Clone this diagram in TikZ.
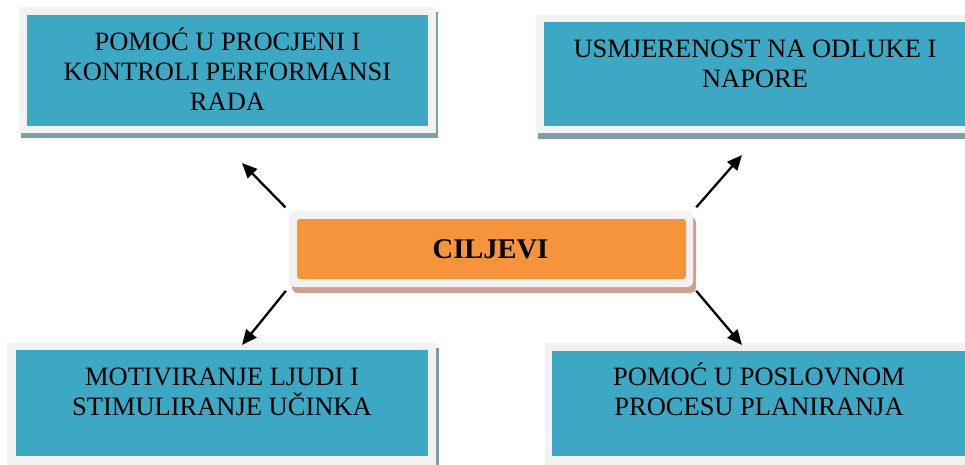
\documentclass[tikz,border=0pt]{standalone}
\usepackage{fontspec}
\setmainfont{Liberation Serif}
\usetikzlibrary{arrows.meta}
\definecolor{tealbox}{HTML}{3DA8C4}
\definecolor{framegray}{HTML}{F2F2F2}
\definecolor{shadowblue}{HTML}{7D9FA9}
\definecolor{orangebox}{HTML}{F5943A}
\definecolor{shadowbrown}{HTML}{CDA08F}
\begin{document}
\begin{tikzpicture}[x=1pt,y=-1pt,
  frame/.style={fill=framegray,inner sep=0pt,outer sep=0pt,draw=none},
  inner/.style={fill=tealbox,inner sep=0pt,outer sep=0pt,draw=none},
  label/.style={anchor=base,align=center,inner sep=0pt,font=\fontsize{26.5}{30}\selectfont},
  conn/.style={line width=2.3pt,-{Triangle[length=15pt,width=13pt]},shorten <=5pt}]
\useasboundingbox (0,0) rectangle (965,464);
\fill[white] (0,0) rectangle (965,464);
% top-left
\fill[shadowblue] (21,12) rectangle (438,138);
\node[frame,minimum width=417pt,minimum height=126pt] (tlf) at (227.5,70) {};
\node[inner,minimum width=401pt,minimum height=111pt] (tli) at (227.5,70.5) {};
\node[label] (tlt) at (227.5,110) {POMOĆ U PROCJENI I\\KONTROLI PERFORMANSI\\RADA};
% top-right
\fill[shadowblue] (538,20) rectangle (977,139);
\node[frame,minimum width=439pt,minimum height=118pt] (trf) at (755.5,74) {};
\node[inner,minimum width=423pt,minimum height=104pt] (tri) at (755.5,74) {};
\node[label] (trt) at (755,87) {USMJERENOST NA ODLUKE I\\NAPORE};
% bottom-left
\fill[shadowblue] (10,348) rectangle (439,477);
\node[frame,minimum width=429pt,minimum height=129pt] (blf) at (221.5,407.5) {};
\node[inner,minimum width=412pt,minimum height=106pt] (bli) at (222,403) {};
\node[label] (blt) at (222,415) {MOTIVIRANJE LJUDI I\\STIMULIRANJE UČINKA};
% bottom-right
\fill[shadowblue] (548,348) rectangle (978,477);
\node[frame,minimum width=430pt,minimum height=129pt] (brf) at (760,407.5) {};
\node[inner,minimum width=415pt,minimum height=105pt] (bri) at (759.5,403.5) {};
\node[label] (brt) at (759,415) {POMOĆ U POSLOVNOM\\PROCESU PLANIRANJA};
% center
\fill[shadowbrown,rounded corners=6pt] (292,217) rectangle (696,293);
\node[frame,rounded corners=6pt,minimum width=404pt,minimum height=76pt] (cf) at (491,249) {};
\node[fill=orangebox,rounded corners=3pt,inner sep=0pt,outer sep=0pt,minimum width=389pt,minimum height=60pt] (ci) at (491.5,249) {};
\node[anchor=base,inner sep=0pt,font=\fontsize{28.5}{32}\selectfont\bfseries] (ct) at (490.5,258) {CILJEVI};
% arrows
\coordinate (h1) at (242,163);
\coordinate (h2) at (742,155);
\coordinate (h3) at (242,345);
\coordinate (h4) at (742,345);
\draw[conn] (cf.north west) -- (h1);
\draw[conn] (cf.north east) -- (h2);
\draw[conn] (cf.south west) -- (h3);
\draw[conn] (cf.south east) -- (h4);
\end{tikzpicture}
\end{document}
